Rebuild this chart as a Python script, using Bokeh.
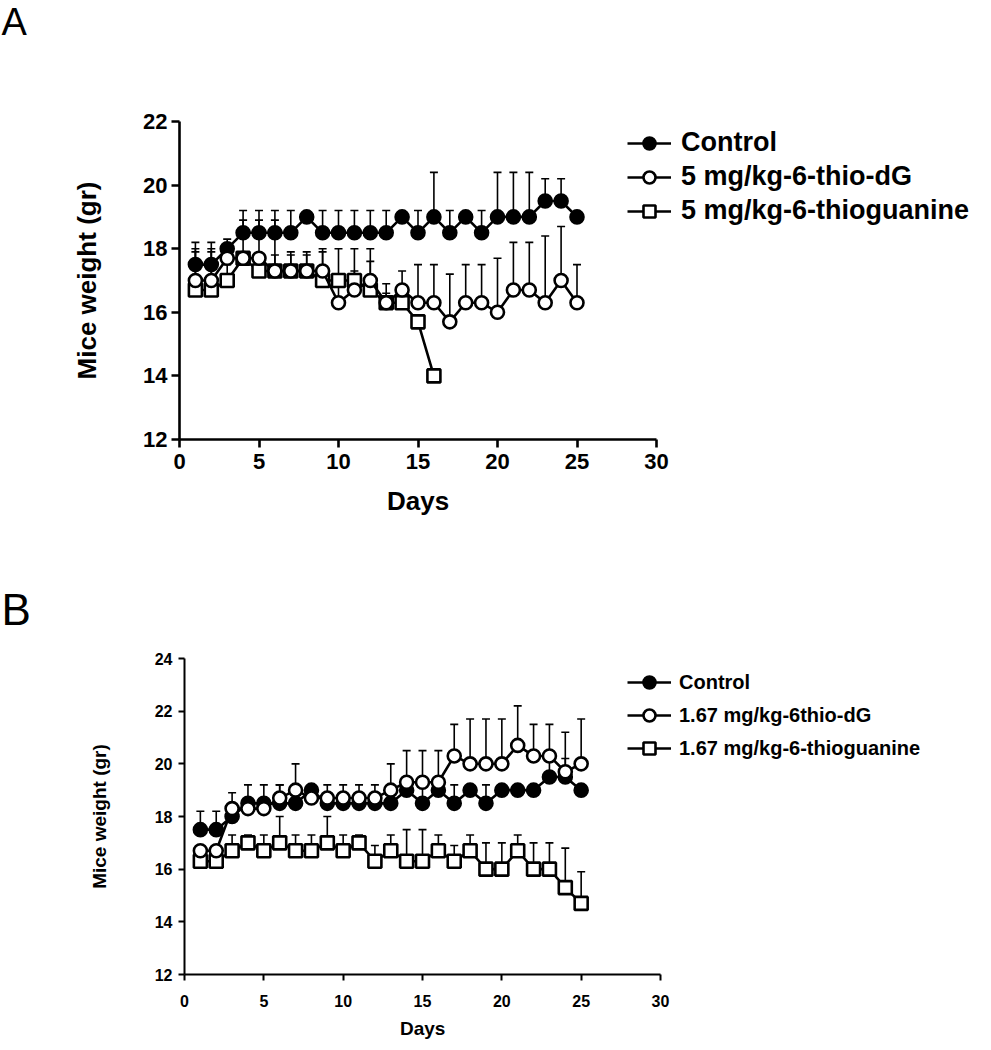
from bokeh.plotting import figure
from bokeh.models import (Range1d, FixedTicker, Whisker, TeeHead, ColumnDataSource,
                          Legend, LegendItem, Title)
from bokeh.core.properties import value
from bokeh.layouts import column
from bokeh.embed import file_html
from bokeh.resources import INLINE

# ---------------- data ----------------
days = list(range(1, 26))

# Panel A
a_names = ["Control", "5 mg/kg-6-thio-dG", "5 mg/kg-6-thioguanine"]
a_control = [17.5, 17.5, 18.0, 18.5, 18.5, 18.5, 18.5, 19.0, 18.5, 18.5, 18.5, 18.5, 18.5,
             19.0, 18.5, 19.0, 18.5, 19.0, 18.5, 19.0, 19.0, 19.0, 19.5, 19.5, 19.0]
a_control_err = [0.7, 0.7, 0.3, 0.7, 0.7, 0.7, 0.7, 0.0, 0.7, 0.7, 0.7, 0.7, 0.7,
                 0.0, 0.7, 1.4, 0.7, 0.0, 0.7, 1.4, 1.4, 1.4, 0.7, 0.7, 0.0]
a_thiodg = [17.0, 17.0, 17.7, 17.7, 17.7, 17.3, 17.3, 17.3, 17.3, 16.3, 16.7, 17.0, 16.3,
            16.7, 16.3, 16.3, 15.7, 16.3, 16.3, 16.0, 16.7, 16.7, 16.3, 17.0, 16.3]
a_thiodg_err = [1.0, 1.0, 0.3, 1.2, 1.2, 1.6, 0.6, 0.6, 0.6, 0.6, 0.6, 0.6, 0.6,
                0.6, 1.2, 1.2, 1.5, 1.2, 1.2, 1.7, 1.5, 1.5, 2.1, 1.7, 1.2]
a_thiog = [16.7, 16.7, 17.0, 17.7, 17.3, 17.3, 17.3, 17.3, 17.0, 17.0, 17.0, 16.7, 16.3,
           16.3, 15.7, 14.0]
a_thiog_err = [1.2, 1.2, 0.5, 0.0, 0.5, 0.5, 0.5, 0.5, 1.0, 1.0, 1.0, 1.3, 0.3,
               0.4, 0.0, 0.0]

# Panel B
b_names = ["Control", "1.67 mg/kg-6thio-dG", "1.67 mg/kg-6-thioguanine"]
b_control = [17.5, 17.5, 18.0, 18.5, 18.5, 18.5, 18.5, 19.0, 18.5, 18.5, 18.5, 18.5, 18.5,
             19.0, 18.5, 19.0, 18.5, 19.0, 18.5, 19.0, 19.0, 19.0, 19.5, 19.5, 19.0]
b_control_err = [0.7, 0.7, 0.3, 0.7, 0.7, 0.7, 0.7, 0.2, 0.7, 0.7, 0.7, 0.7, 0.7,
                 0.0, 0.7, 0.0, 0.7, 0.0, 0.7, 0.0, 0.0, 0.0, 0.7, 0.7, 0.0]
b_thiodg = [16.7, 16.7, 18.3, 18.3, 18.3, 18.7, 19.0, 18.7, 18.7, 18.7, 18.7, 18.7, 19.0,
            19.3, 19.3, 19.3, 20.3, 20.0, 20.0, 20.0, 20.7, 20.3, 20.3, 19.7, 20.0]
b_thiodg_err = [0.0, 0.0, 0.6, 0.0, 0.0, 0.5, 1.0, 0.0, 0.0, 0.0, 0.0, 0.0, 1.0,
                1.2, 1.2, 1.2, 1.2, 1.7, 1.7, 1.7, 1.5, 1.2, 1.2, 1.5, 1.7]
b_thiog = [16.3, 16.3, 16.7, 17.0, 16.7, 17.0, 16.7, 16.7, 17.0, 16.7, 17.0, 16.3, 16.7,
           16.3, 16.3, 16.7, 16.3, 16.7, 16.0, 16.0, 16.7, 16.0, 16.0, 15.3, 14.7]
b_thiog_err = [0.0, 0.0, 0.6, 0.3, 0.6, 1.0, 0.6, 0.6, 1.0, 0.6, 0.3, 0.6, 0.6,
               1.2, 1.2, 0.6, 0.6, 0.6, 1.0, 1.0, 0.6, 1.0, 1.0, 1.5, 1.2]

x_ticks = [0, 5, 10, 15, 20, 25, 30]
a_y_ticks = [12, 14, 16, 18, 20, 22]
b_y_ticks = [12, 14, 16, 18, 20, 22, 24]

FONT = "Liberation Sans"
W = 975


def letter_strip(letter, height, top, size):
    s = figure(width=W, height=height, x_range=Range1d(0, W), y_range=Range1d(0, height),
               min_border=0, output_backend="svg", toolbar_location=None, tools="",
               x_axis_type=None, y_axis_type=None, frame_align=False)
    s.outline_line_color = None
    s.grid.visible = False
    s.text(x=[1], y=[height - top], text=[letter], text_font=value(FONT),
           text_font_size=size, text_baseline="top", text_align="left",
           text_color="black")
    return s


def panel(names, series, y_ticks, cfg):
    fl, ft, px30, fh, H = cfg["fl"], cfg["ft"], cfg["px30"], cfg["fh"], cfg["H"]
    ymin, ymax = y_ticks[0], y_ticks[-1]
    fw = W - fl
    sx = px30 / 30.0
    p = figure(width=W, height=H, x_range=Range1d(0, fw / sx), y_range=Range1d(ymin, ymax),
               min_border_left=fl, min_border_right=0, min_border_top=ft,
               min_border_bottom=H - ft - fh, output_backend="svg",
               toolbar_location=None, tools="", frame_align=False)
    p.outline_line_color = None
    p.grid.visible = False
    p.background_fill_color = "white"
    p.border_fill_color = "white"

    p.xaxis.bounds = (0, 30)
    p.yaxis.bounds = (ymin, ymax)
    p.xaxis.ticker = FixedTicker(ticks=x_ticks)
    p.yaxis.ticker = FixedTicker(ticks=y_ticks)
    p.yaxis.axis_label = "Mice weight (gr)"
    for ax in (p.xaxis, p.yaxis):
        ax.axis_line_width = cfg["aw"]
        ax.axis_line_color = "black"
        ax.major_tick_line_width = cfg["aw"]
        ax.major_tick_line_color = "black"
        ax.major_tick_out = cfg["tick"]
        ax.major_tick_in = 0
        ax.minor_tick_out = 0
        ax.minor_tick_in = 0
        ax.major_label_text_font = FONT
        ax.major_label_text_font_style = "bold"
        ax.major_label_text_font_size = cfg["tickfs"]
        ax.major_label_text_color = "black"
        ax.axis_label_text_font = FONT
        ax.axis_label_text_font_style = "bold"
        ax.axis_label_text_font_size = cfg["titlefs"]
        ax.axis_label_text_color = "black"
    p.xaxis.major_label_standoff = cfg["xls"]
    p.yaxis.major_label_standoff = cfg["yls"]
    p.yaxis.axis_label_standoff = cfg["yts"]

    # x-axis title centred under the 0-30 axis span
    xt = Title(text="Days", align="left", offset=15 * sx - cfg["daysw"] / 2,
               text_font=FONT, text_font_style="bold", text_font_size=cfg["titlefs"],
               text_color="black", standoff=cfg["xts"])
    p.add_layout(xt, "below")

    styles = {
        0: dict(marker="circle", fill_color="black"),
        1: dict(marker="circle", fill_color="white"),
        2: dict(marker="square", fill_color="white"),
    }
    renderers = {}
    for idx in (0, 2, 1):
        vals, errs = series[idx]
        d = days[:len(vals)]
        keep = [i for i, e in enumerate(errs) if e > 0]
        src = ColumnDataSource(dict(x=[d[i] for i in keep],
                                    lo=[vals[i] for i in keep],
                                    hi=[vals[i] + errs[i] for i in keep]))
        wh = Whisker(source=src, base="x", lower="lo", upper="hi",
                     line_color="black", line_width=1.6,
                     upper_head=TeeHead(size=8, line_width=1.6, line_color="black"),
                     lower_head=None, level="underlay")
        p.add_layout(wh)
        ln = p.line(d, vals, line_color="black", line_width=2.6)
        sc = p.scatter(d, vals, size=cfg["ms"], line_color="black", line_width=2.6,
                       **styles[idx])
        renderers[idx] = [ln, sc]

    items = [LegendItem(label=names[i], renderers=renderers[i]) for i in (0, 1, 2)]
    leg = Legend(items=items, location=cfg["legloc"], orientation="vertical",
                 glyph_width=44, glyph_height=30, label_height=30, spacing=3,
                 padding=0, margin=0, label_standoff=cfg["legstand"],
                 border_line_color=None, background_fill_alpha=0,
                 label_text_font=FONT, label_text_font_style="bold",
                 label_text_font_size=cfg["legfs"], label_text_color="black",
                 label_text_baseline="middle")
    p.add_layout(leg)
    return p


cfg_a = dict(fl=179, ft=77, px30=477, fh=318, H=530, aw=2.6, tick=8,
             tickfs="22px", titlefs="26px", xls=6, yls=4, xts=24, yts=38, daysw=62,
             ms=13, legloc=(448, 213), legstand=10, legfs="27px")
cfg_b = dict(fl=184, ft=20, px30=476, fh=316, H=410, aw=2.0, tick=6,
             tickfs="16px", titlefs="19px", xls=14, yls=6, xts=12, yts=42, daysw=45,
             ms=13, legloc=(443, 211), legstand=8, legfs="20px")

sa = letter_strip("A", 44, 0, "38px")
pa = panel(a_names,
           [(a_control, a_control_err), (a_thiodg, a_thiodg_err), (a_thiog, a_thiog_err)],
           a_y_ticks, cfg_a)
sb = letter_strip("B", 64, 10, "44px")
pb = panel(b_names,
           [(b_control, b_control_err), (b_thiodg, b_thiodg_err), (b_thiog, b_thiog_err)],
           b_y_ticks, cfg_b)

layout = column(sa, pa, sb, pb, spacing=0)
open("out.html", "w").write(file_html(layout, INLINE))
